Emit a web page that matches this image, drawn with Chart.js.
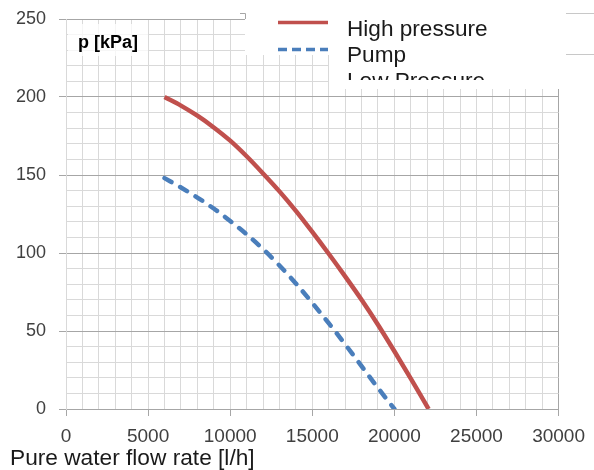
<!DOCTYPE html>
<html lang="en">
<head>
  <meta charset="UTF-8" />
  <title>Pump curve</title>
  <style>
    body {
      margin: 0;
      padding: 0;
      background: #fff;
    }
    #wrap {
      width: 594px;
      height: 470px;
    }
  </style>
</head>
<body>
  <div id="wrap">
    <canvas id="pumpChart" width="594" height="470"></canvas>
  </div>

  <script src="https://cdn.jsdelivr.net/npm/chart.js"></script>
  <script>
    // values
    const seriesNames = ['High pressure', 'Pump', 'Low Pressure'];
    const seriesColors = ['#c0504d', '#4a7ebb'];

    const flowHigh = [6000, 7000, 8000, 9000, 10000, 11000, 12000, 13000, 14000, 15000, 16000, 17000, 18000, 19000, 20000, 21000, 22000, 22080];
    const pressureHigh = [200, 194.5, 188, 180.5, 172, 162, 151, 139.5, 127, 113.5, 99.5, 85, 70, 54, 37, 19.5, 1.5, 0];

    const flowPump = [6000, 7000, 8000, 9000, 10000, 11000, 12000, 13000, 14000, 15000, 16000, 17000, 18000, 19000, 20000];
    const pressurePump = [148, 142, 135.5, 128.5, 120.5, 112, 102.5, 92, 80.5, 68, 55, 41.5, 27.5, 13.5, 0];

    const xTickLabels = [0, 5000, 10000, 15000, 20000, 25000, 30000];
    const yTickLabels = [0, 50, 100, 150, 200, 250];

    const xTitle = 'Pure water flow rate [l/h]';
    const yTitle = 'p [kPa]';

    function toPoints(xs, ys) {
      return xs.map((x, i) => ({ x: x, y: ys[i] }));
    }

    const FONT = "'Liberation Sans', Arial, sans-serif";

    // legend, axis title and the little p [kPa] label
    const extras = {
      id: 'extras',
      afterDatasetsDraw(chart) {
        const c = chart.ctx;
        c.save();

        // p [kPa] box
        c.fillStyle = 'rgba(255,255,255,0.75)';
        c.fillRect(68, 24, 80, 32);
        c.fillStyle = '#000';
        c.font = 'bold 18px ' + FONT;
        c.textBaseline = 'alphabetic';
        c.fillText(yTitle, 78, 48);

        // legend backgrounds
        c.fillStyle = '#fff';
        c.fillRect(245, 13, 84, 42);
        c.fillRect(329, 13, 236, 76);

        // small step in the border
        c.strokeStyle = '#a6a6a6';
        c.lineWidth = 1;
        c.beginPath();
        c.moveTo(240, 13.5);
        c.lineTo(245.5, 13.5);
        c.lineTo(245.5, 19);
        c.stroke();

        // lines right of the legend
        c.strokeStyle = '#c8c8c8';
        c.beginPath();
        c.moveTo(566, 13.5); c.lineTo(594, 13.5);
        c.moveTo(566, 54.5); c.lineTo(594, 54.5);
        c.stroke();

        // legend samples
        c.lineCap = 'butt';
        c.strokeStyle = seriesColors[0];
        c.lineWidth = 3.5;
        c.beginPath();
        c.moveTo(278, 22.5); c.lineTo(328, 22.5);
        c.stroke();

        c.strokeStyle = seriesColors[1];
        c.setLineDash([9, 5]);
        c.beginPath();
        c.moveTo(278, 49.5); c.lineTo(328, 49.5);
        c.stroke();
        c.setLineDash([]);

        // legend text, last one cut off by the box
        c.fillStyle = '#1a1a1a';
        c.font = '22.6px ' + FONT;
        c.save();
        c.beginPath();
        c.rect(329, 13, 236, 67);
        c.clip();
        seriesNames.forEach((name, i) => {
          c.fillText(name, 347, 36 + i * 26);
        });
        c.restore();

        // x axis title
        c.fillStyle = '#1a1a1a';
        c.font = '22.7px ' + FONT;
        c.fillText(xTitle, 10, 465);

        c.restore();
      }
    };

    const ctx = document.getElementById('pumpChart').getContext('2d');
    new Chart(ctx, {
      type: 'line',
      data: {
        datasets: [{
          label: seriesNames[0],
          data: toPoints(flowHigh, pressureHigh),
          borderColor: seriesColors[0],
          borderWidth: 4.5,
          pointRadius: 0,
          cubicInterpolationMode: 'monotone',
          fill: false
        }, {
          label: seriesNames[1],
          data: toPoints(flowPump, pressurePump),
          borderColor: seriesColors[1],
          borderWidth: 4.5,
          borderDash: [8, 10],
          borderCapStyle: 'round',
          pointRadius: 0,
          cubicInterpolationMode: 'monotone',
          fill: false
        }]
      },
      options: {
        responsive: false,
        animation: false,
        layout: {
          padding: { left: 0, right: 35, top: 19, bottom: 0 }
        },
        plugins: {
          legend: { display: false },
          tooltip: { enabled: false }
        },
        scales: {
          x: {
            type: 'linear',
            min: 0,
            max: 30000,
            afterFit(scale) { scale.height = 61; },
            grid: {
              color: c => c.tick && c.tick.value === 30000 ? '#a6a6a6' : '#d9d9d9',
              tickLength: 7,
              tickColor: c => c.tick && xTickLabels.includes(c.tick.value) ? '#a6a6a6' : 'rgba(0,0,0,0)'
            },
            border: { color: '#a6a6a6' },
            ticks: {
              stepSize: 1000,
              maxTicksLimit: 100,
              autoSkip: false,
              maxRotation: 0,
              padding: 9,
              color: '#404040',
              font: { family: FONT, size: 19 },
              callback: v => xTickLabels.includes(v) ? String(v) : ''
            }
          },
          y: {
            min: 0,
            max: 250,
            afterFit(scale) {
              scale.width = 66;
              scale.paddingTop = 0;
              scale.paddingBottom = 0;
            },
            grid: {
              color: c => c.tick && yTickLabels.includes(c.tick.value) ? '#a6a6a6' : '#d9d9d9',
              tickLength: 7,
              tickColor: c => c.tick && yTickLabels.includes(c.tick.value) ? '#a6a6a6' : 'rgba(0,0,0,0)'
            },
            border: { color: '#d9d9d9' },
            ticks: {
              stepSize: 10,
              maxTicksLimit: 100,
              autoSkip: false,
              padding: 13,
              color: '#404040',
              font: { family: FONT, size: 18 },
              callback: v => yTickLabels.includes(v) ? String(v) : ''
            }
          }
        }
      },
      plugins: [extras]
    });
  </script>
</body>
</html>
